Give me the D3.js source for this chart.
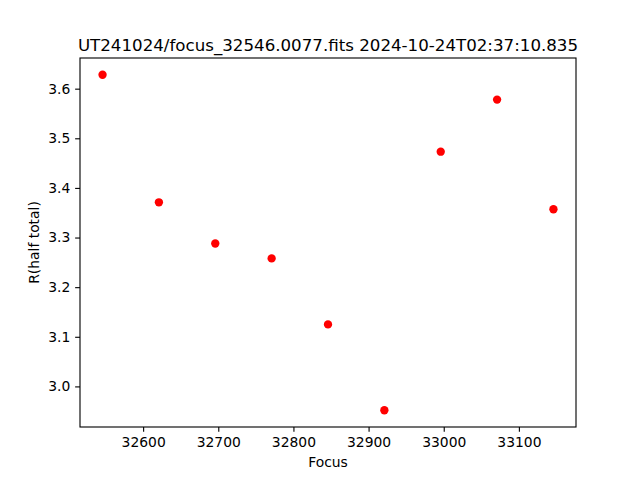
<!DOCTYPE html>
<html><head><meta charset="utf-8">
<script src="https://cdn.jsdelivr.net/npm/d3@7"></script>
<style>body{margin:0;background:#fff}svg{display:block}text{font-family:"DejaVu Sans",sans-serif;fill:#000}</style>
</head><body>
<script>
const focus = [32546, 32621, 32696, 32771, 32846, 32921, 32996, 33071, 33146];
const rHalf = [3.628, 3.371, 3.288, 3.258, 3.125, 2.952, 3.473, 3.578, 3.357];
const xTicks = [32600, 32700, 32800, 32900, 33000, 33100];
const yTicks = [3.0, 3.1, 3.2, 3.3, 3.4, 3.5, 3.6];
const title = "UT241024/focus_32546.0077.fits 2024-10-24T02:37:10.835";

const W = 640, H = 480, L = 80, R = 576, T = 58, B = 427;
const svg = d3.select("body").append("svg").attr("width", W).attr("height", H);
const pad = (e) => { const d = (e[1]-e[0])*0.05; return [e[0]-d, e[1]+d]; };
const x = d3.scaleLinear().domain(pad(d3.extent(focus))).range([L, R]);
const y = d3.scaleLinear().domain(pad(d3.extent(rHalf))).range([B, T]);

const xa = svg.append("g").attr("transform", `translate(0,${B})`)
  .call(d3.axisBottom(x).tickValues(xTicks).tickFormat(d3.format("d")).tickSizeOuter(0).tickSize(4.86).tickPadding(4.86));
const ya = svg.append("g").attr("transform", `translate(${L},0)`)
  .call(d3.axisLeft(y).tickValues(yTicks).tickFormat(d3.format(".1f")).tickSizeOuter(0).tickSize(4.86).tickPadding(4.86));
[xa, ya].forEach(a => {
  a.select(".domain").remove();
  a.selectAll("line").attr("stroke", "#000").attr("stroke-width", 1.11);
  a.selectAll("text").style("font-family", "DejaVu Sans").style("font-size", "13.89px").attr("fill", "#000");
});

svg.append("rect").attr("x", L).attr("y", T).attr("width", R-L).attr("height", B-T)
  .attr("fill", "none").attr("stroke", "#000").attr("stroke-width", 1.11);

svg.append("g").selectAll("circle").data(focus).join("circle")
  .attr("cx", d => x(d)).attr("cy", (d, i) => y(rHalf[i])).attr("r", 4.17).attr("fill", "#ff0000");

svg.append("text").attr("x", (L+R)/2).attr("y", 51).attr("text-anchor", "middle")
  .style("font-size", "16.67px").text(title);
svg.append("text").attr("x", (L+R)/2).attr("y", 467).attr("text-anchor", "middle")
  .style("font-size", "13.89px").text("Focus");
svg.append("text").attr("transform", `translate(39,${(T+B)/2}) rotate(-90)`).attr("text-anchor", "middle")
  .style("font-size", "13.89px").text("R(half total)");
</script>
</body></html>
